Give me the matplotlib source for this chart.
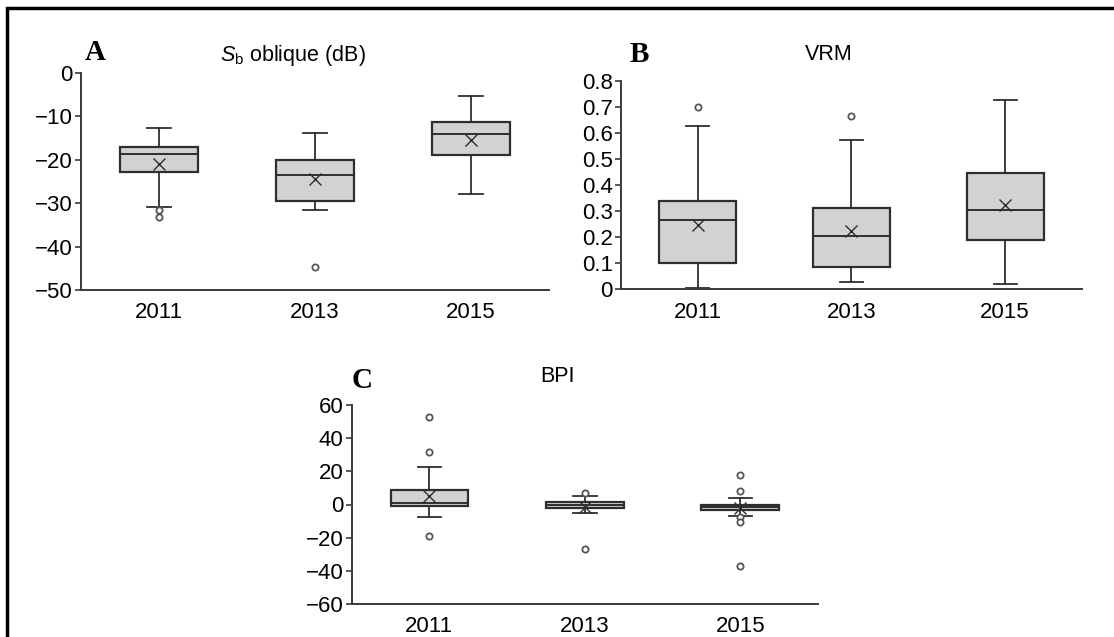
import matplotlib
matplotlib.use("Agg")
import matplotlib.pyplot as plt
from matplotlib.patches import Rectangle

plt.rcParams['font.family'] = ['Liberation Sans', 'DejaVu Sans']
plt.rcParams['mathtext.fontset'] = 'custom'
plt.rcParams['mathtext.rm'] = 'Liberation Sans'
plt.rcParams['mathtext.it'] = 'Liberation Sans:italic'

years = ['2011', '2013', '2015']

## panel A : Sb oblique (dB)
sb_q1 = [-22.8, -29.6, -19.0]
sb_med = [-18.8, -23.5, -14.2]
sb_q3 = [-17.2, -20.0, -11.3]
sb_lo = [-30.8, -31.6, -28.0]
sb_hi = [-12.8, -13.9, -5.3]
sb_mean = [-21.0, -24.4, -15.5]
sb_fliers = [[-31.5, -33.1], [-44.6], []]

## panel B : VRM
vrm_q1 = [0.102, 0.086, 0.189]
vrm_med = [0.265, 0.204, 0.303]
vrm_q3 = [0.340, 0.312, 0.448]
vrm_lo = [0.006, 0.028, 0.020]
vrm_hi = [0.627, 0.575, 0.727]
vrm_mean = [0.246, 0.223, 0.325]
vrm_fliers = [[0.700], [0.666], []]

## panel C : BPI
bpi_q1 = [-1.1, -1.9, -3.1]
bpi_med = [1.1, -0.3, -1.5]
bpi_q3 = [8.5, 1.4, -0.1]
bpi_lo = [-7.8, -4.9, -6.9]
bpi_hi = [22.6, 4.9, 3.7]
bpi_mean = [5.1, -1.4, -2.3]
bpi_fliers = [[53.0, 31.8, -19.0], [6.8, -26.9], [17.6, 8.3, -7.5, -10.6, -37.1]]

W, H = 1114, 637
fig = plt.figure(figsize=(W / 100, H / 100), dpi=100)


def rect(l, r, t, b):
    return [l / W, 1 - b / H, (r - l) / W, (b - t) / H]


def make_stats(q1, med, q3, lo, hi, mean, fliers):
    stats = []
    for i in range(len(q1)):
        stats.append(dict(q1=q1[i], med=med[i], q3=q3[i], whislo=lo[i],
                          whishi=hi[i], mean=mean[i], fliers=fliers[i]))
    return stats


edge = '#2e2e2e'


def draw(ax, stats, ylim, yticks, yticklabels):
    ax.bxp(stats, positions=[1, 2, 3], widths=0.5, patch_artist=True,
           showmeans=True, capwidths=0.15,
           boxprops=dict(facecolor='#d1d2d4', edgecolor=edge, linewidth=1.6),
           medianprops=dict(color=edge, linewidth=1.4),
           whiskerprops=dict(color=edge, linewidth=1.3),
           capprops=dict(color=edge, linewidth=1.3),
           meanprops=dict(marker='x', markeredgecolor=edge, markersize=9,
                          markeredgewidth=1.0),
           flierprops=dict(marker='o', markerfacecolor='white',
                           markeredgecolor='#555555', markersize=4.5,
                           markeredgewidth=1.3))
    ax.set_xlim(0.5, 3.5)
    ax.set_ylim(*ylim)
    ax.set_yticks(yticks)
    ax.set_yticklabels(yticklabels)
    ax.set_xticks([1, 2, 3])
    ax.set_xticklabels(years)
    ax.spines['top'].set_visible(False)
    ax.spines['right'].set_visible(False)
    for s in ['left', 'bottom']:
        ax.spines[s].set_color('#3a3a3a')
        ax.spines[s].set_linewidth(1.4)
    ax.tick_params(axis='x', length=0, labelsize=16, pad=9)
    ax.tick_params(axis='y', length=4, width=1.2, color='#3a3a3a',
                   labelsize=16, pad=2)
    ax.patch.set_alpha(0)


axA = fig.add_axes(rect(81, 549, 72.7, 290))
draw(axA, make_stats(sb_q1, sb_med, sb_q3, sb_lo, sb_hi, sb_mean, sb_fliers),
     (-50, 0), [0, -10, -20, -30, -40, -50],
     ['0', '\u221210', '\u221220', '\u221230', '\u221240', '\u221250'])

axB = fig.add_axes(rect(621, 1082, 81, 289.3))
draw(axB, make_stats(vrm_q1, vrm_med, vrm_q3, vrm_lo, vrm_hi, vrm_mean, vrm_fliers),
     (0, 0.8), [0, 0.1, 0.2, 0.3, 0.4, 0.5, 0.6, 0.7, 0.8],
     ['0', '0.1', '0.2', '0.3', '0.4', '0.5', '0.6', '0.7', '0.8'])

axC = fig.add_axes(rect(351.7, 818, 405, 604))
draw(axC, make_stats(bpi_q1, bpi_med, bpi_q3, bpi_lo, bpi_hi, bpi_mean, bpi_fliers),
     (-60, 60), [60, 40, 20, 0, -20, -40, -60],
     ['60', '40', '20', '0', '\u221220', '\u221240', '\u221260'])

# panel letters and titles
def ftext(x, y, s, **kw):
    fig.text(x / W, 1 - y / H, s, ha='center', va='center', **kw)

ftext(95, 52, 'A', fontsize=21, fontweight='bold', family='Liberation Serif')
ftext(639, 54, 'B', fontsize=21, fontweight='bold', family='Liberation Serif')
ftext(362, 381, 'C', fontsize=21, fontweight='bold', family='Liberation Serif')
ftext(293, 56, r'$S_\mathrm{b}$ oblique (dB)', fontsize=15.5)
ftext(829, 54, 'VRM', fontsize=15.5)
ftext(558, 377, 'BPI', fontsize=15.5)

# frame around the figure
fig.patches.append(Rectangle((7 / W, -0.1), 1.2, 1 - 8 / H + 0.1,
                             transform=fig.transFigure, fill=False,
                             edgecolor='black', linewidth=2.5))

fig.savefig('out.png', dpi=100)
